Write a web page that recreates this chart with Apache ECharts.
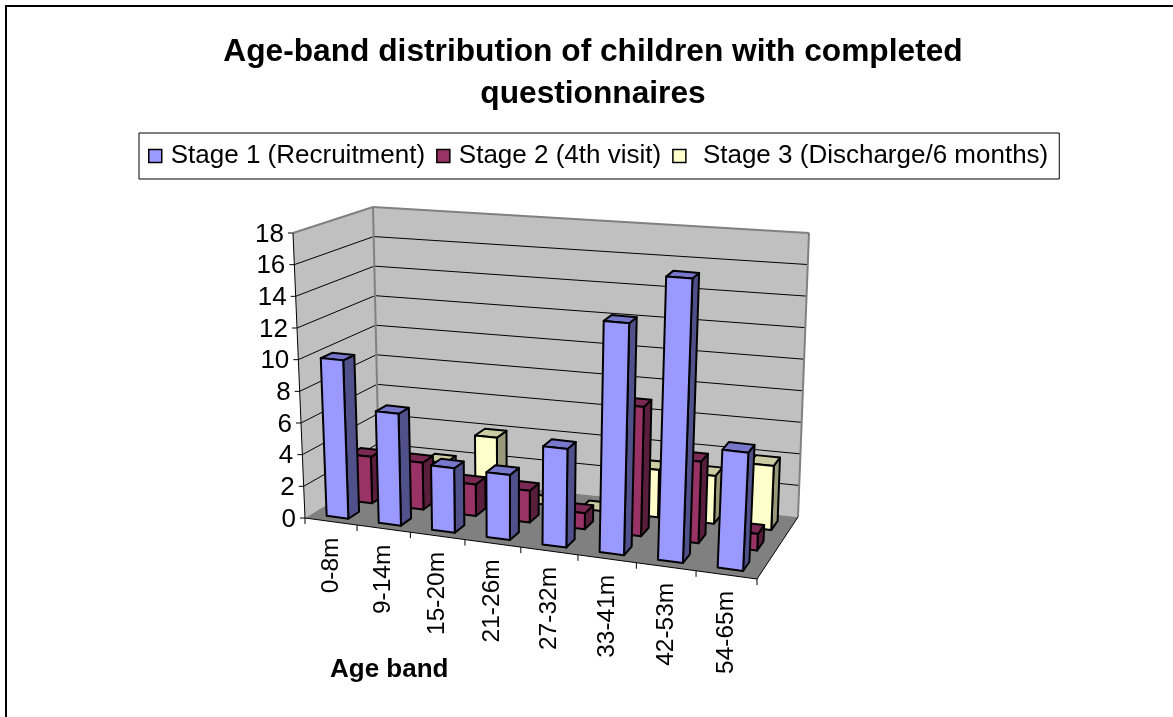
<!DOCTYPE html>
<html><head><meta charset="utf-8">
<style>html,body{margin:0;padding:0;background:#fff}#c{width:1173px;height:717px}</style>
<script src="https://cdn.jsdelivr.net/npm/echarts@6/dist/echarts.min.js"></script>
</head><body><div id="c"></div>
<script>
const categories = ['0-8m','9-14m','15-20m','21-26m','27-32m','33-41m','42-53m','54-65m'];
const stage1 = [10,7,4,4,6,14,17,7];
const stage2 = [3,3,2,2,1,8,5,1];
const stage3 = [0,2,4,0,0,3,3,4];
const valueTicks = [0,2,4,6,8,10,12,14,16,18];
const titleText = 'Age-band distribution of children with completed\nquestionnaires';
const stageNames = ['Stage 1 (Recruitment)','Stage 2 (4th visit)','Stage 3 (Discharge/6 months)'];
const stageColors = ['#9999FF','#993366','#FFFFCC'];

// projection of the 3-D box onto the page
const FLOOR = [[305,518],[757,579],[798,517],[379,473]]; // front-left, front-right, back-right, back-left
const CEIL  = [[293,233],[772,272],[809,233],[373,207]];
const bilinear=q=>(u,v)=>{
  const w=[(1-u)*(1-v),u*(1-v),u*v,(1-u)*v];
  return [0,1].map(k=>w[0]*q[0][k]+w[1]*q[1][k]+w[2]*q[2][k]+w[3]*q[3][k]);
};
const hF=bilinear(FLOOR), hC=bilinear(CEIL);
const n=categories.length, rows=3;
const GRID={left:305,top:233,width:452,height:285};
function P(u,v,t){
  const w=u-0.09*u*(1-u);   // slight perspective along the category direction
  const a=hF(w,v),b=hC(w,v);
  return [a[0]+(b[0]-a[0])*t,a[1]+(b[1]-a[1])*t];
}
const level=(api,val)=>(GRID.top+GRID.height-api.coord([0,val])[1])/GRID.height;
const BAR_W=0.42, BAR_D=0.45;
const STROKE={stroke:'#000',lineWidth:2,lineJoin:'round'};
const poly=(points,fill)=>({type:'polygon',shape:{points},style:Object.assign({fill},STROKE)});
const line=(a,b,stroke,lineWidth)=>({type:'line',shape:{x1:a[0],y1:a[1],x2:b[0],y2:b[1]},style:{stroke,lineWidth}});

function barSeries(name,values,row,colors,z){
  return {
    type:'custom',name,z,coordinateSystem:'cartesian2d',
    data:values.map((v,i)=>[i,v]),
    encode:{x:0,y:1},clip:false,silent:true,
    itemStyle:{color:colors[0],borderColor:'#000'},
    renderItem(params,api){
      const i=api.value(0),val=api.value(1);
      const t=level(api,val);
      const u0=(i+.5-BAR_W/2)/n,u1=(i+.5+BAR_W/2)/n;
      const v0=(row+.5-BAR_D/2)/rows,v1=(row+.5+BAR_D/2)/rows;
      const a=P(u0,v0,0),b=P(u1,v0,0),c=P(u1,v1,0);
      const A=P(u0,v0,t),B=P(u1,v0,t),C=P(u1,v1,t),D=P(u0,v1,t);
      const top=poly([A,B,C,D],colors[2]);
      // a zero value still leaves the flat lid of the box on the floor
      if(!val) return {type:'group',children:[top]};
      return {type:'group',children:[
        poly([b,c,C,B],colors[1]),
        top,
        poly([a,b,B,A],colors[0])
      ]};
    }
  };
}

const wallSeries={
  type:'custom',name:'walls',z:1,silent:true,clip:false,coordinateSystem:'cartesian2d',
  data:[[0,0]],encode:{x:0,y:1},
  renderItem(params,api){
    const ch=[];
    const g={fill:'#C0C0C0'};
    ch.push({type:'polygon',shape:{points:[P(0,0,0),P(0,1,0),P(0,1,1),P(0,0,1)]},style:g});
    ch.push({type:'polygon',shape:{points:[P(0,1,0),P(1,1,0),P(1,1,1),P(0,1,1)]},style:g});
    ch.push({type:'polygon',shape:{points:[P(0,0,0),P(1,0,0),P(1,1,0),P(0,1,0)]},style:{fill:'#808080'}});
    valueTicks.forEach(val=>{
      const t=level(api,val);
      if(val>0&&val<18){
        ch.push(line(P(0,0,t),P(0,1,t),'#000',1));
        ch.push(line(P(0,1,t),P(1,1,t),'#000',1));
      }
      const p=P(0,0,t);
      ch.push(line([p[0]-5,p[1]],p,'#000',1));
    });
    // wall frame
    ch.push(line(P(0,0,1),P(0,1,1),'#808080',2));
    ch.push(line(P(0,1,1),P(1,1,1),'#808080',2));
    ch.push(line(P(0,1,0),P(0,1,1),'#808080',2));
    ch.push(line(P(1,1,0),P(1,1,1),'#808080',2));
    // axes
    ch.push(line(P(0,0,0),P(0,0,1),'#000',1));
    ch.push(line(P(0,0,0),P(1,0,0),'#000',1));
    ch.push(line(P(1,0,0),P(1,1,0),'#000',1));
    return {type:'group',children:ch};
  }
};

const categoryLabels={
  type:'custom',name:'categoryLabels',z:6,silent:true,clip:false,coordinateSystem:'cartesian2d',
  data:categories.map((c,i)=>[i,0]),encode:{x:0,y:1},
  renderItem(params,api){
    const i=api.value(0);
    const u=(i+.5)/n, tick=P((i+1)/n,0,0), p=P(u,0,0), o=P(0,0,0);
    return {type:'group',children:[
      line(tick,[tick[0],tick[1]+6],'#000',1),
      i===0?line(o,[o[0],o[1]+6],'#000',1):{type:'group',children:[]},
      {type:'text',x:p[0],y:p[1]+16,rotation:Math.PI/2,
       style:{text:categories[i],font:'24.5px "Liberation Sans"',fill:'#000',align:'right',verticalAlign:'middle'}}
    ]};
  }
};

const tickRich={};
valueTicks.forEach(v=>{tickRich['t'+v]={fontFamily:'Liberation Sans',fontSize:26,color:'#000',padding:[3,v/18*12,0,0]};});

const chart=echarts.init(document.getElementById('c'),null,{renderer:'canvas'});
chart.setOption({
  animation:false,
  backgroundColor:'#fff',
  title:[
    {text:titleText,left:588,textAlign:'center',top:26,
     textStyle:{fontFamily:'Liberation Sans',fontSize:31.7,fontWeight:'bold',color:'#000',lineHeight:42}},
    {text:'Age band',left:325,top:652,
     textStyle:{fontFamily:'Liberation Sans',fontSize:26,fontWeight:'bold',color:'#000'}}
  ],
  legend:{
    left:139,top:133,
    data:stageNames.map((name,i)=>({name,icon:'rect',itemStyle:{color:stageColors[i],borderColor:'#000',borderWidth:1.5}})),
    orient:'horizontal',
    itemWidth:13,itemHeight:13,itemGap:11,
    padding:[10,11,10,9],
    borderColor:'#000',borderWidth:1,backgroundColor:'#fff',
    textStyle:{fontFamily:'Liberation Sans',fontSize:26,color:'#000',padding:[0,0,0,4],rich:{g:{width:8}}},
    formatter:name=>name===stageNames[2]?'{g|}'+name:name
  },
  grid:{left:GRID.left,top:GRID.top,width:GRID.width,height:GRID.height,containLabel:false},
  xAxis:{type:'category',data:categories,show:false},
  yAxis:{type:'value',min:0,max:18,interval:2,
    axisLine:{show:false},axisTick:{show:false},splitLine:{show:false},
    axisLabel:{margin:9,align:'right',formatter:v=>`{t${v}|${v}}`,rich:tickRich}},
  series:[
    wallSeries,
    barSeries(stageNames[0],stage1,0,['#9999FF','#50508A','#7777CC'],5),
    barSeries(stageNames[1],stage2,1,['#993366','#5A1E3D','#7A2952'],4),
    barSeries(stageNames[2],stage3,2,['#FFFFCC','#99997A','#CCCCA3'],3),
    categoryLabels
  ],
  graphic:[{type:'rect',z:-1,silent:true,shape:{x:6,y:6,width:1400,height:800},style:{fill:'#fff',stroke:'#000',lineWidth:2}}]
});
</script></body></html>
